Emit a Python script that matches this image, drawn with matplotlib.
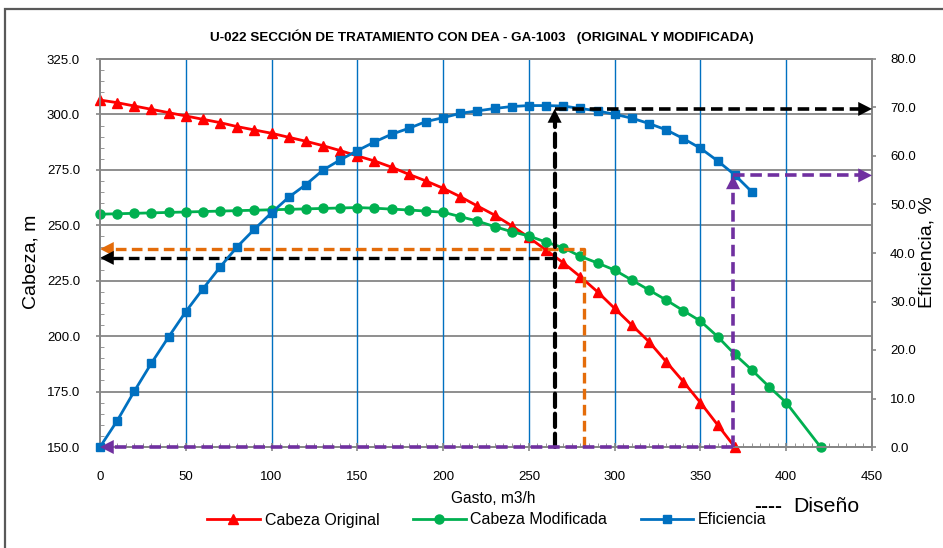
import matplotlib
matplotlib.use("Agg")
import matplotlib.pyplot as plt
from matplotlib.ticker import MultipleLocator, FormatStrFormatter
from matplotlib.patches import Rectangle

plt.rcParams['font.family'] = ['Liberation Sans', 'DejaVu Sans']

# ---------------- data ----------------
title = "U-022 SECCIÓN DE TRATAMIENTO CON DEA - GA-1003   (ORIGINAL Y MODIFICADA)"

flow_orig = list(range(0, 380, 10))
head_orig = [306.5, 305.3, 303.8, 302.3, 300.8, 299.3, 297.8, 296.3, 294.5, 293.0,
             291.5, 289.7, 287.9, 285.9, 283.7, 281.3, 279.0, 276.2, 273.0, 270.0,
             266.7, 262.9, 258.7, 254.6, 249.8, 244.5, 238.8, 233.1, 226.8, 220.0,
             212.5, 205.0, 197.5, 188.5, 179.5, 170.0, 160.0, 150.0]

flow_mod = list(range(0, 410, 10)) + [420]
head_mod = [255.0, 255.2, 255.4, 255.6, 255.8, 256.0, 256.2, 256.4, 256.6, 256.8,
            257.0, 257.2, 257.4, 257.6, 257.8, 258.0, 257.7, 257.3, 256.9, 256.4,
            255.9, 253.9, 251.9, 249.4, 247.1, 245.2, 242.4, 239.9, 236.0, 233.0,
            229.8, 225.3, 220.8, 216.3, 211.5, 206.8, 199.8, 191.8, 184.7, 177.2,
            170.0, 150.0]

flow_eff = list(range(0, 390, 10))
eff = [0.0, 5.4, 11.5, 17.3, 22.7, 27.9, 32.6, 37.1, 41.3, 44.9,
       48.3, 51.5, 54.1, 57.1, 59.2, 61.1, 62.9, 64.5, 65.7, 67.1,
       67.9, 68.8, 69.3, 69.8, 70.2, 70.4, 70.4, 70.3, 69.8, 69.3,
       68.6, 67.8, 66.7, 65.4, 63.6, 61.6, 59.0, 56.1, 52.6]

# design points (dashed guide lines)
design_flow = 265
design_head = 235.3
design_eff = 69.7
orange_flow = 282
orange_head = 239.3
purple_flow = 369
purple_eff = 56.0

RED = "#FF0000"
GREEN = "#00B050"
BLUE = "#0070C0"
ORANGE = "#E46C0A"
PURPLE = "#7030A0"
GRAY = "#868686"

fig = plt.figure(figsize=(9.43, 5.48), dpi=100)
ax = fig.add_axes([100/943, 1-447/548, 772/943, 388/548])
ax2 = ax.twinx()

# outer chart border (cropped frame)
fig.patches.append(Rectangle((5/943, -0.1), 1.2, 1 - 9/548 + 0.1, transform=fig.transFigure,
                             fill=False, edgecolor="#595959", linewidth=1.6))

ax.set_xlim(0, 450)
ax.set_ylim(150, 325)
ax2.set_ylim(0, 80)

ax.xaxis.set_major_locator(MultipleLocator(50))
ax.xaxis.set_minor_locator(MultipleLocator(5))
ax.yaxis.set_major_locator(MultipleLocator(25))
ax.yaxis.set_minor_locator(MultipleLocator(5))
ax.yaxis.set_major_formatter(FormatStrFormatter("%.1f"))
ax2.yaxis.set_major_locator(MultipleLocator(10))
ax2.yaxis.set_major_formatter(FormatStrFormatter("%.1f"))

for a in (ax, ax2):
    for s in a.spines.values():
        s.set_color(GRAY)
        s.set_linewidth(1.3)

ax.tick_params(axis='both', which='major', labelsize=9.5, color=GRAY, width=1.2)
ax.tick_params(axis='x', which='major', direction='inout', length=6, pad=14)
ax.tick_params(axis='y', which='major', direction='out', length=3, pad=11.4)
ax.tick_params(axis='y', which='minor', direction='in', length=3, color=GRAY)
ax.tick_params(axis='x', which='minor', direction='in', length=3, color=GRAY)
ax2.tick_params(axis='y', which='major', labelsize=9.5, color=GRAY, length=3, width=1.2, pad=10)

# gridlines
for yv in range(175, 326, 25):
    ax.axhline(yv, color=GRAY, linewidth=1.3, zorder=0.5)
for xv in range(50, 450, 50):
    ax.axvline(xv, color=BLUE, linewidth=1.0, zorder=0.5)

ax.set_zorder(1)
ax2.set_zorder(2)
ax.patch.set_visible(True)
ax2.patch.set_visible(False)

l1, = ax.plot(flow_orig, head_orig, color=RED, marker='^', markersize=7.5, linewidth=2.0,
              label="Cabeza Original", clip_on=False, zorder=3)
l2, = ax.plot(flow_mod, head_mod, color=GREEN, marker='o', markersize=6.5, linewidth=2.0,
              label="Cabeza Modificada", clip_on=False, zorder=3)
l3, = ax2.plot(flow_eff, eff, color=BLUE, marker='s', markersize=6.0, linewidth=2.0,
               label="Eficiencia", clip_on=False, zorder=3)

dash = (0, (3.2, 1.6))

def arrow(a, tip, dx, dy, color):
    a.annotate("", xy=tip, xytext=(dx, dy), textcoords='offset points',
               arrowprops=dict(arrowstyle="-|>,head_length=0.55,head_width=0.28",
                               color=color, lw=0.01, shrinkA=0, shrinkB=0,
                               mutation_scale=18), zorder=5, annotation_clip=False)

# orange
ax.plot([orange_flow, orange_flow, 6], [150, orange_head, orange_head], color=ORANGE,
        linewidth=2.4, linestyle=dash, zorder=4, clip_on=False)
arrow(ax, (0, orange_head), 10, 0, ORANGE)

# black
ax.plot([design_flow, 6], [design_head, design_head], color="black",
        linewidth=2.4, linestyle=dash, zorder=4, clip_on=False)
arrow(ax, (0, design_head), 10, 0, "black")
ax2.plot([design_flow, design_flow], [0, design_eff - 1.5], color="black",
         linewidth=3.0, linestyle=dash, zorder=4, clip_on=False,
         dash_capstyle='round')
arrow(ax2, (design_flow, design_eff), 0, -10, "black")
ax2.plot([design_flow, 444], [design_eff, design_eff], color="black",
         linewidth=2.6, linestyle=dash, zorder=4, clip_on=False)
arrow(ax2, (450, design_eff), -10, 0, "black")

# purple
ax2.plot([purple_flow, 6], [0, 0], color=PURPLE, linewidth=2.6, linestyle=dash,
         zorder=4, clip_on=False)
arrow(ax2, (0, 0), 10, 0, PURPLE)
ax2.plot([purple_flow, purple_flow], [0, purple_eff - 1.5], color=PURPLE,
         linewidth=2.6, linestyle=dash, zorder=4, clip_on=False)
arrow(ax2, (purple_flow, purple_eff), 0, -10, PURPLE)
ax2.plot([purple_flow, 444], [purple_eff, purple_eff], color=PURPLE,
         linewidth=2.6, linestyle=dash, zorder=4, clip_on=False)
arrow(ax2, (450, purple_eff), -10, 0, PURPLE)

# labels
fig.text(482/943, 1-37/548, title, ha='center', va='center', fontsize=9.7, fontweight='bold')
ax.set_ylabel("Cabeza, m", fontsize=14)
ax.yaxis.set_label_coords(-61/772, (447-262)/388)
ax2.set_ylabel("Eficiencia, %", fontsize=14)
ax2.yaxis.set_label_coords((919-100)/772, (447-252)/388)
ax.set_xlabel("Gasto, m3/h", fontsize=11.2)
ax.xaxis.set_label_coords((493.5-100)/772, -(491-447)/388)
fig.text(754/943, 1-507/548, "----", ha='left', va='center', fontsize=15, fontweight='bold')
fig.text(793/943, 1-507/548, "Diseño", ha='left', va='center', fontsize=15.3)

fig.legend(handles=[l1, l2, l3], loc='center', bbox_to_anchor=(487/943, 1-520/548),
           ncol=3, frameon=False, fontsize=11.5, handlelength=3.3, columnspacing=2.1,
           handletextpad=0.3, borderpad=0)

fig.savefig("out.png", dpi=100)
